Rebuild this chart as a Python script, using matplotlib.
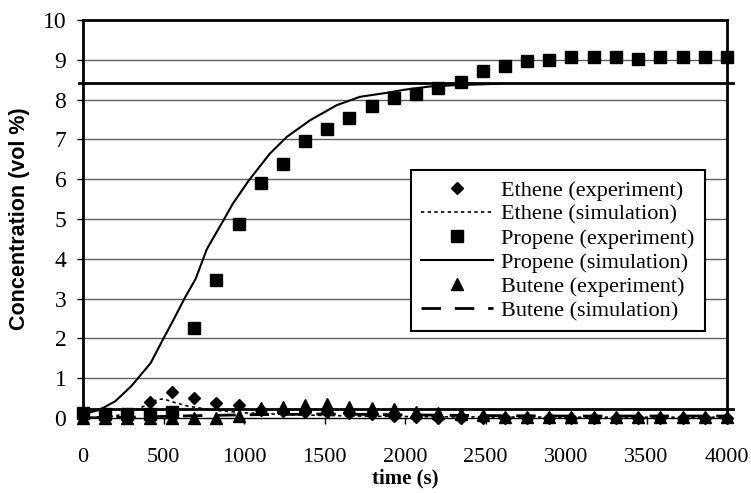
import matplotlib
matplotlib.use("Agg")
import matplotlib.pyplot as plt

# ---- data ----
time_exp = [0, 138, 276, 414, 552, 690, 828, 966, 1103, 1241, 1379, 1517, 1655, 1793,
            1931, 2069, 2207, 2345, 2483, 2621, 2759, 2897, 3034, 3172, 3310, 3448,
            3586, 3724, 3862, 4000]
ethene_exp = [0.05, 0.05, 0.1, 0.4, 0.65, 0.5, 0.37, 0.33, 0.2, 0.18, 0.16, 0.15, 0.12,
              0.1, 0.05, 0.02, 0.0, 0.0, 0.0, 0.0, 0.0, 0.0, 0.0, 0.0, 0.0, 0.0, 0.0,
              0.0, 0.0, 0.0]
propene_exp = [0.12, 0.1, 0.1, 0.1, 0.15, 2.25, 3.47, 4.87, 5.9, 6.37, 6.97, 7.27, 7.55,
               7.85, 8.03, 8.13, 8.28, 8.44, 8.71, 8.85, 8.98, 9.0, 9.07, 9.07, 9.07,
               9.02, 9.07, 9.07, 9.07, 9.07]
butene_exp = [0.0, 0.0, 0.0, 0.0, 0.0, 0.0, 0.0, 0.05, 0.25, 0.28, 0.32, 0.36, 0.28,
              0.25, 0.22, 0.15, 0.12, 0.1, 0.08, 0.03, 0.02, 0.02, 0.02, 0.02, 0.02,
              0.02, 0.02, 0.02, 0.02, 0.02]

time_sim_eth = [0, 200, 300, 380, 460, 500, 560, 650, 800, 1000, 1300, 1700, 2200, 3000, 4000]
ethene_sim = [0.0, 0.05, 0.15, 0.3, 0.46, 0.48, 0.4, 0.3, 0.2, 0.13, 0.08, 0.05, 0.03, 0.02, 0.02]

time_sim_pro = [0, 100, 200, 300, 420, 500, 560, 630, 700, 770, 870, 930, 1030, 1160,
                1265, 1410, 1576, 1720, 1886, 2000, 2155, 2300, 2450, 2600]
propene_sim = [0.1, 0.2, 0.42, 0.8, 1.38, 2.0, 2.45, 3.0, 3.5, 4.25, 4.95, 5.38, 5.97,
               6.64, 7.06, 7.48, 7.86, 8.07, 8.17, 8.25, 8.33, 8.36, 8.38, 8.4]

time_sim_but = [0, 300, 600, 1000, 1500, 2000, 2500, 3000, 4000]
butene_sim = [0.0, 0.02, 0.05, 0.08, 0.1, 0.08, 0.06, 0.05, 0.05]

ref_lines = [8.42, 0.22]

x_ticks = [0, 500, 1000, 1500, 2000, 2500, 3000, 3500, 4000]
y_ticks = [0, 1, 2, 3, 4, 5, 6, 7, 8, 9, 10]

serif = ["Liberation Serif", "DejaVu Serif"]
sans = ["Liberation Sans", "DejaVu Sans"]

fig = plt.figure(figsize=(7.51, 4.93), dpi=100)
ax = fig.add_axes([83 / 751, 1 - 418 / 493, (727 - 83) / 751, (418 - 20) / 493])

ax.set_xlim(0, 4000)
ax.set_ylim(0, 10)

for yv in y_ticks[1:-1]:
    ax.axhline(yv, color="#606060", lw=1.0, zorder=0)

for yv in ref_lines:
    ax.plot([-25, 4040], [yv, yv], color="black", lw=2.0, clip_on=False, zorder=1)

ax.plot(time_exp, ethene_exp, linestyle="none", marker="D", ms=6.5, color="black",
        label="Ethene (experiment)", clip_on=False, zorder=3)
ax.plot(time_sim_eth, ethene_sim, linestyle=(0, (2, 2)), lw=1.2, color="black",
        label="Ethene (simulation)", zorder=2)
ax.plot(time_exp, propene_exp, linestyle="none", marker="s", ms=8, color="black",
        label="Propene (experiment)", clip_on=False, zorder=3)
ax.plot(time_sim_pro, propene_sim, linestyle="-", lw=1.5, color="black",
        label="Propene (simulation)", zorder=2)
ax.plot(time_exp, butene_exp, linestyle="none", marker="^", ms=8, color="black",
        label="Butene (experiment)", clip_on=False, zorder=3)
ax.plot(time_sim_but, butene_sim, linestyle=(0, (7, 5)), lw=2.0, color="black",
        label="Butene (simulation)", zorder=2)

for s in ["left", "top", "right"]:
    ax.spines[s].set_linewidth(2.0)
ax.spines["bottom"].set_linewidth(1.0)

ax.set_xticks(x_ticks)
ax.set_yticks(y_ticks)
ax.set_xticklabels([str(v) for v in x_ticks], fontfamily=serif, fontsize=16)
ax.set_yticklabels([str(v) for v in y_ticks], fontfamily=serif, fontsize=17)
ax.tick_params(axis="both", direction="out", length=4.5, width=1, color="black")
ax.tick_params(axis="x", pad=17)
ax.tick_params(axis="y", pad=7.5)

ax.set_xlabel("time (s)", fontfamily=serif, fontweight="bold", fontsize=15)
ax.xaxis.set_label_coords(0.5, -(468 - 418) / 398)
ax.set_ylabel("Concentration (vol %)", fontfamily=sans, fontweight="bold", fontsize=15.5)
ax.yaxis.set_label_coords((30 - 83) / 644, 0.5)

leg = ax.legend(loc="upper left", bbox_to_anchor=((411 - 83) / 644, (418 - 170) / 398),
                prop={"family": serif, "size": 16}, frameon=True, fancybox=False,
                edgecolor="black", framealpha=1, borderaxespad=0, borderpad=0.45,
                labelspacing=0.16, handlelength=3.25, handletextpad=0.36)
leg.get_frame().set_linewidth(1.5)
leg.set_zorder(5)

fig.savefig("out.png", dpi=100)
